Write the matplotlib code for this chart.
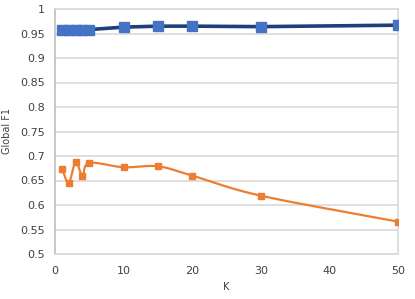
import numpy as np
import matplotlib
matplotlib.use('Agg')
import matplotlib.pyplot as plt

k_values = [1, 2, 3, 4, 5, 10, 15, 20, 30, 50]
blue_f1 = [0.957, 0.957, 0.957, 0.958, 0.958, 0.963, 0.965, 0.965, 0.964, 0.967]
orange_f1 = [0.674, 0.645, 0.688, 0.660, 0.686, 0.677, 0.679, 0.660, 0.619, 0.566]

x_ticks = [0, 10, 20, 30, 40, 50]
y_ticks = [0.5, 0.55, 0.6, 0.65, 0.7, 0.75, 0.8, 0.85, 0.9, 0.95, 1]
y_tick_labels = ['0.5', '0.55', '0.6', '0.65', '0.7', '0.75', '0.8',
                 '0.85', '0.9', '0.95', '1']


def smooth(xs, ys, n=20):
    # Catmull-Rom style smoothing, like Excel's "smoothed line"
    xs = np.asarray(xs, float)
    ys = np.asarray(ys, float)
    px = np.concatenate([[2 * xs[0] - xs[1]], xs, [2 * xs[-1] - xs[-2]]])
    py = np.concatenate([[2 * ys[0] - ys[1]], ys, [2 * ys[-1] - ys[-2]]])
    out_x, out_y = [], []
    t = np.linspace(0, 1, n, endpoint=False)
    for i in range(1, len(px) - 2):
        for p, out in ((px, out_x), (py, out_y)):
            p0, p1, p2, p3 = p[i - 1], p[i], p[i + 1], p[i + 2]
            c1 = p1 + (p2 - p0) / 6
            c2 = p2 - (p3 - p1) / 6
            out.extend((1 - t) ** 3 * p1 + 3 * (1 - t) ** 2 * t * c1
                       + 3 * (1 - t) * t ** 2 * c2 + t ** 3 * p2)
    out_x.append(xs[-1])
    out_y.append(ys[-1])
    return out_x, out_y


fig = plt.figure(figsize=(4.15, 2.99), dpi=100)
ax = fig.add_axes([55 / 415, 1 - 254 / 299, 343 / 415, 245 / 299])

ax.plot(k_values, blue_f1, color='#1F3F7A', lw=2.6, zorder=3)
ax.plot(k_values, blue_f1, ls='none', marker='s', ms=6.8,
        color='#4472C4', zorder=4)

sx, sy = smooth(k_values, orange_f1)
ax.plot(sx, sy, color='#ED7D31', lw=1.6, zorder=3)
ax.plot(k_values, orange_f1, ls='none', marker='s', ms=5,
        color='#ED7D31', zorder=4)

ax.set_xlim(0, 50)
ax.set_ylim(0.5, 1)
ax.set_xticks(x_ticks)
ax.set_yticks(y_ticks)
ax.set_xticklabels([str(v) for v in x_ticks])
ax.set_yticklabels(y_tick_labels)
ax.tick_params(length=0, labelsize=8, colors='#404040', pad=7)
ax.tick_params(axis='x', pad=9)
ax.grid(axis='y', color='#D9D9D9', lw=1.2)
ax.set_axisbelow(True)
for s in ax.spines.values():
    s.set_color('#D9D9D9')
    s.set_linewidth(1.2)
ax.spines['left'].set_color('#BFBFBF')

ax.set_xlabel('K', fontsize=7, color='#404040', labelpad=4)
ax.set_ylabel('Global F1', fontsize=7, color='#404040')
ax.yaxis.set_label_coords(-0.125, 0.5)

fig.savefig('out.png', dpi=100)
